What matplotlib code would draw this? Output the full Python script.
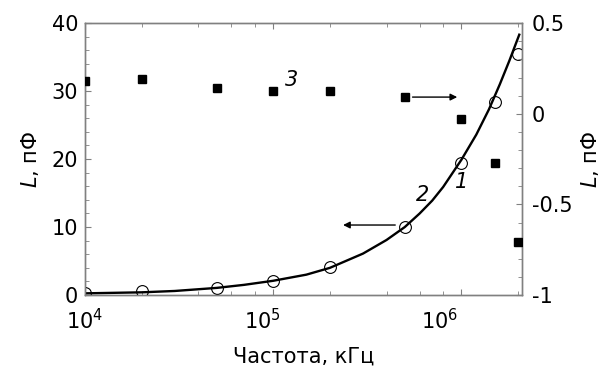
import matplotlib
matplotlib.use("Agg")
import matplotlib.pyplot as plt
import matplotlib.ticker as mticker
from matplotlib.transforms import ScaledTranslation

# Données
freq = [1e4, 2e4, 5e4, 1e5, 2e5, 5e5, 1e6, 1.5e6, 2e6]          # kHz
L_cercles = [0.3, 0.6, 1.0, 2.1, 4.1, 10.0, 19.4, 28.4, 35.5]     # courbe 1, axe gauche
L_carres = [0.18, 0.19, 0.14, 0.125, 0.125, 0.094, -0.03, -0.27, -0.71]  # courbe 3, axe droit

# Courbe 2 (ajustement), points relevés le long du trait
freq_courbe = [1e4, 2e4, 3e4, 5e4, 7e4, 1e5, 1.5e5, 2e5, 3e5, 4e5, 5e5,
               6e5, 7e5, 8e5, 1e6, 1.2e6, 1.4e6, 1.6e6, 1.8e6, 2.03e6]
L_courbe = [0.25, 0.4, 0.6, 1.05, 1.5, 2.1, 3.0, 4.0, 6.1, 8.1, 10.0,
            12.0, 13.9, 15.9, 19.9, 23.6, 27.3, 31.0, 34.5, 38.3]

x_ticks = [1e4, 1e5, 1e6]
x_tick_dx = [0, -8, -16]  # décalage des étiquettes (pt), comme sur l'original

plt.rcParams['font.family'] = ['DejaVu Sans']
plt.rcParams['axes.unicode_minus'] = False

gris = '#808080'

fig = plt.figure(figsize=(6.12, 3.73), dpi=100)
ax1 = fig.add_axes([0.139, 0.209, 0.714, 0.729])
ax2 = ax1.twinx()

# Courbe et cercles (axe gauche)
ax1.plot(freq_courbe, L_courbe, color='black', linewidth=1.7, zorder=3)
ax1.plot(freq, L_cercles, linestyle='none', marker='o', markersize=8.5,
         markerfacecolor='none', markeredgecolor='black', markeredgewidth=0.8, zorder=4)

# Carrés (axe droit)
ax2.plot(freq, L_carres, linestyle='none', marker='s', markersize=6,
         color='black', zorder=4)

ax1.set_xscale('log')
ax1.set_xlim(1e4, 2.1e6)
ax1.set_ylim(0, 40)
ax2.set_ylim(-1, 0.5)

# Graduations
ax1.xaxis.set_major_locator(mticker.FixedLocator(x_ticks))
ax1.xaxis.set_minor_locator(mticker.LogLocator(base=10, subs=[2, 4, 6, 8]))
ax1.xaxis.set_minor_formatter(mticker.NullFormatter())
ax1.yaxis.set_major_locator(mticker.MultipleLocator(10))
ax1.yaxis.set_minor_locator(mticker.MultipleLocator(2))
ax2.yaxis.set_major_locator(mticker.MultipleLocator(0.5))
ax2.yaxis.set_minor_locator(mticker.MultipleLocator(0.1))
ax2.yaxis.set_major_formatter(mticker.FuncFormatter(lambda v, p: f"{v:g}"))

ax1.tick_params(which='both', direction='in', top=True, right=False,
                color=gris, labelsize=15)
ax1.tick_params(which='major', length=4.5)
ax1.tick_params(which='minor', length=3)
ax1.tick_params(axis='x', pad=9)
ax1.tick_params(axis='y', pad=5)
ax2.tick_params(which='both', direction='in', color=gris, labelsize=15)
ax2.tick_params(which='major', length=4.5, pad=7)
ax2.tick_params(which='minor', length=3)

for ax in (ax1, ax2):
    for sp in ax.spines.values():
        sp.set_color(gris)
        sp.set_linewidth(1.0)

# Titres des axes
ax1.set_xlabel("Частота, кГц", fontsize=15, labelpad=10)
ax1.set_ylabel("$L$, пФ", fontsize=15, labelpad=8)
ax2.set_ylabel("$L$, пФ", fontsize=15, labelpad=5)

# Flèches indiquant l'axe de chaque série
ax2.annotate('', xy=(9.5e5, 0.092), xytext=(5.5e5, 0.092),
             arrowprops=dict(arrowstyle='-|>', color='black', lw=1.0, mutation_scale=10,
                             shrinkA=0, shrinkB=0))
ax1.annotate('', xy=(2.35e5, 10.3), xytext=(4.45e5, 10.3),
             arrowprops=dict(arrowstyle='-|>', color='black', lw=1.0, mutation_scale=10,
                             shrinkA=0, shrinkB=0))

# Numéros des courbes
ax2.text(1.25e5, 0.186, '3', fontsize=15, style='italic', ha='center', va='center')
ax1.text(1.0e6, 16.6, '1', fontsize=15, style='italic', ha='center', va='center')
ax1.text(6.2e5, 14.7, '2', fontsize=15, style='italic', ha='center', va='center')

# Décalage des étiquettes de l'axe x
for tick, dx in zip(ax1.xaxis.get_major_ticks(), x_tick_dx):
    tick.label1.set_transform(tick.label1.get_transform()
                              + ScaledTranslation(dx / 72, 0, fig.dpi_scale_trans))

plt.savefig("out.png", dpi=100)
